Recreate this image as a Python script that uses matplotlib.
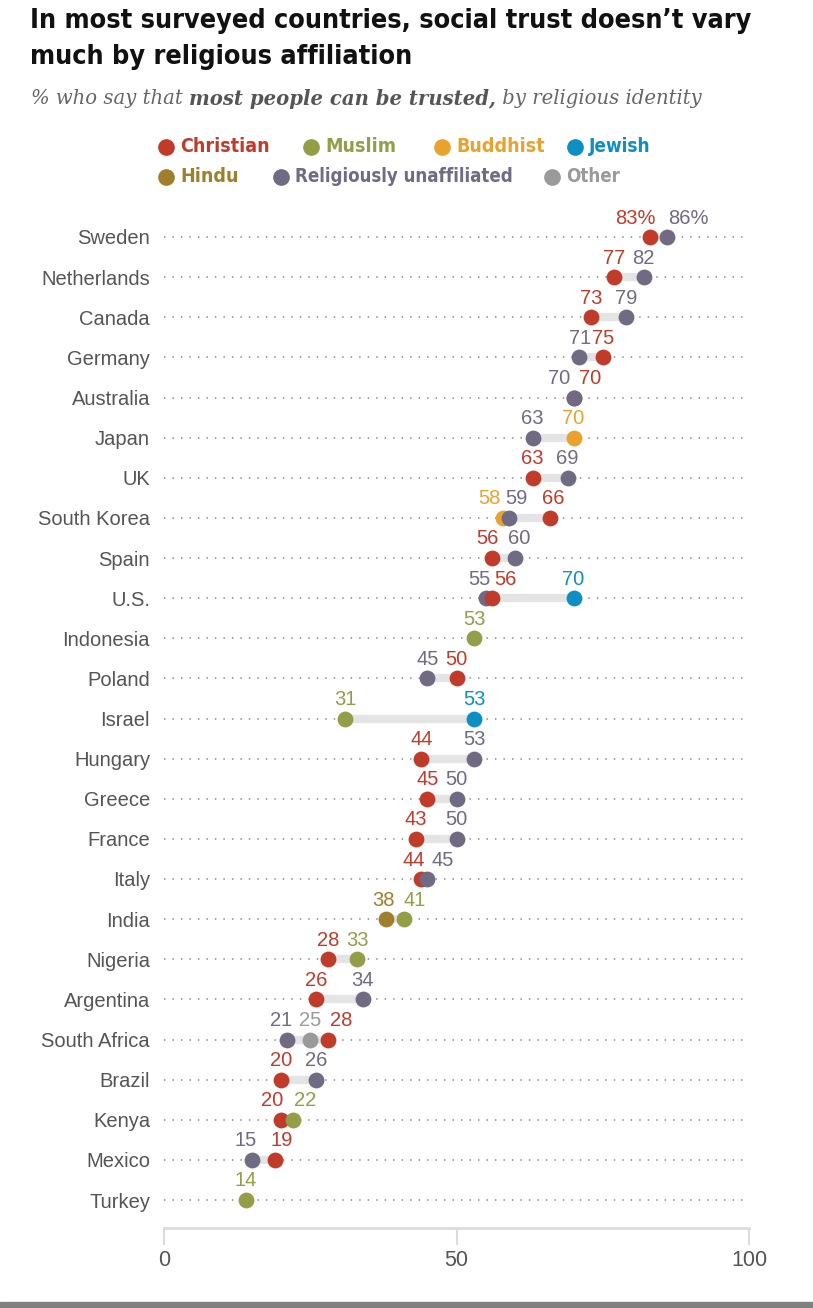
import numpy as np
import matplotlib
matplotlib.use("Agg")
import matplotlib.pyplot as plt
from matplotlib.lines import Line2D

nan = np.nan

countries = ["Sweden", "Netherlands", "Canada", "Germany", "Australia", "Japan", "UK",
             "South Korea", "Spain", "U.S.", "Indonesia", "Poland", "Israel", "Hungary",
             "Greece", "France", "Italy", "India", "Nigeria", "Argentina", "South Africa",
             "Brazil", "Kenya", "Mexico", "Turkey"]

christian = [83, 77, 73, 75, 70, nan, 63, 66, 56, 56, nan, 50, nan, 44, 45, 43, 44, nan, 28, 26, 28, 20, 20, 19, nan]
muslim = [nan, nan, nan, nan, nan, nan, nan, nan, nan, nan, 53, nan, 31, nan, nan, nan, nan, 41, 33, nan, nan, nan, 22, nan, 14]
buddhist = [nan, nan, nan, nan, nan, 70, nan, 58, nan, nan, nan, nan, nan, nan, nan, nan, nan, nan, nan, nan, nan, nan, nan, nan, nan]
jewish = [nan, nan, nan, nan, nan, nan, nan, nan, nan, 70, nan, nan, 53, nan, nan, nan, nan, nan, nan, nan, nan, nan, nan, nan, nan]
hindu = [nan, nan, nan, nan, nan, nan, nan, nan, nan, nan, nan, nan, nan, nan, nan, nan, nan, 38, nan, nan, nan, nan, nan, nan, nan]
unaffiliated = [86, 82, 79, 71, 70, 63, 69, 59, 60, 55, nan, 45, nan, 53, 50, 50, 45, nan, nan, 34, 21, 26, nan, 15, nan]
other = [nan, nan, nan, nan, nan, nan, nan, nan, nan, nan, nan, nan, nan, nan, nan, nan, nan, nan, nan, nan, 25, nan, nan, nan, nan]

# series order matters for ties (later one drawn on top)
series = [
    ("Christian", christian, "#c13b2a"),
    ("Muslim", muslim, "#949d48"),
    ("Buddhist", buddhist, "#eaa22f"),
    ("Jewish", jewish, "#0d8fc4"),
    ("Hindu", hindu, "#9e7f2b"),
    ("Religiously unaffiliated", unaffiliated, "#716a83"),
    ("Other", other, "#9a9a9a"),
]

# nudges (pixels) for value labels that would collide
nudge = {
    ("Sweden", "Christian"): -14, ("Sweden", "Religiously unaffiliated"): 21,
    ("Australia", "Religiously unaffiliated"): -14, ("Australia", "Christian"): 17,
    ("South Korea", "Buddhist"): -14, ("South Korea", "Religiously unaffiliated"): 7,
    ("South Korea", "Christian"): 3,
    ("Spain", "Christian"): -4, ("Spain", "Religiously unaffiliated"): 4,
    ("U.S.", "Religiously unaffiliated"): -6, ("U.S.", "Christian"): 14,
    ("Italy", "Religiously unaffiliated"): 15, ("Italy", "Christian"): -8,
    ("India", "Hindu"): -3, ("India", "Muslim"): 11,
    ("South Africa", "Religiously unaffiliated"): -6, ("South Africa", "Christian"): 13,
    ("Kenya", "Christian"): -9, ("Kenya", "Muslim"): 12,
    ("Mexico", "Religiously unaffiliated"): -6, ("Mexico", "Christian"): 7,
    ("Germany", "Religiously unaffiliated"): 1,
}

W, H = 813, 1308
fig = plt.figure(figsize=(W / 100, H / 100), dpi=100)
fig.patch.set_facecolor("white")

def fx(x):
    return x / W

def fy(y):
    return 1 - y / H

narrow = ["Noto Sans Condensed", "DejaVu Sans Condensed", "Liberation Sans Narrow", "DejaVu Sans"]
sans = ["Liberation Sans", "DejaVu Sans"]
renderer = fig.canvas.get_renderer()

def fit(t, width_px):
    w = t.get_window_extent(renderer).width
    if w > width_px:
        t.set_fontsize(t.get_fontsize() * width_px / w)

ax = fig.add_axes([fx(164), fy(1228), fx(749) - fx(164), (1228 - 200) / H])
n = len(countries)
ypos = np.arange(n)
ax.set_xlim(0, 100)
ax.set_ylim(24 + 28 / 40.125, -37 / 40.125)

for s in ["top", "right", "left"]:
    ax.spines[s].set_visible(False)
ax.spines["bottom"].set_color("#dcdcdc")
ax.spines["bottom"].set_linewidth(2)
ax.set_xticks([0, 50, 100])
ax.set_xticklabels(["0", "50", "100"], fontsize=15.5, color="#555555", family=sans)
ax.tick_params(axis="x", length=12, width=1.5, color="#dcdcdc", pad=4)
ax.set_yticks(ypos)
ax.set_yticklabels(countries, fontsize=14.5, color="#555555", family=sans)
ax.tick_params(axis="y", length=0, pad=10)

# dotted guide lines
for i in ypos:
    ax.plot([0, 100], [i, i], color="#999999", lw=1.3, ls=(0, (0.8, 3.9)), zorder=1)

data = np.array([s[1] for s in series], dtype=float)
for i in ypos:
    vals = data[:, i]
    ok = ~np.isnan(vals)
    if ok.sum() > 1:
        ax.plot([np.nanmin(vals), np.nanmax(vals)], [i, i], color="#e4e4e4", lw=6,
                solid_capstyle="butt", zorder=2)
    order = sorted(np.where(ok)[0], key=lambda k: vals[k])
    for z, k in enumerate(order):
        name, _, col = series[k]
        ax.scatter(vals[k], i, s=130, color=col, zorder=3 + z, clip_on=False, linewidths=0)
        txt = f"{int(vals[k])}%" if i == 0 else f"{int(vals[k])}"
        ax.annotate(txt, (vals[k], i), xytext=(nudge.get((countries[i], name), 0), 19),
                    textcoords="offset pixels", ha="center", va="center",
                    fontsize=14.5, color=col, family=sans, zorder=10)

# title and subtitle
t1 = fig.text(fx(30), fy(21), "In most surveyed countries, social trust doesn\u2019t vary",
              fontsize=19.5, fontweight="bold", fontstretch="condensed", family=narrow,
              va="center", ha="left", color="#111111")
fit(t1, 722)
t2 = fig.text(fx(30), fy(57), "much by religious affiliation", fontsize=t1.get_fontsize(),
              fontweight="bold", fontstretch="condensed", family=narrow,
              va="center", ha="left", color="#111111")

x = fx(31)
for piece, wt in [("% who say that ", "normal"), ("most people can be trusted,", "bold"),
                  (" by religious identity", "normal")]:
    t = fig.text(x, fy(99), piece, fontsize=14.1, style="italic", fontweight=wt,
                 family=["DejaVu Serif"], color="#666666" if wt == "normal" else "#555555",
                 va="center", ha="left")
    x += t.get_window_extent(renderer).width / W

# legend: (name, marker x, text end x, row y)
legend_pos = [
    ("Christian", 166, 270, 147), ("Muslim", 311, 400, 147), ("Buddhist", 442, 546, 147),
    ("Jewish", 575, 651, 147), ("Hindu", 166, 240, 177),
    ("Religiously unaffiliated", 281, 516, 177), ("Other", 552, 620, 177),
]
colors = {s[0]: s[2] for s in series}
for name, lx, rx, ly in legend_pos:
    fig.add_artist(Line2D([fx(lx)], [fy(ly)], marker="o", markersize=11, color=colors[name],
                          linestyle="none", transform=fig.transFigure))
    lt = fig.text(fx(lx + 14), fy(ly), name, fontsize=14, fontweight="bold",
                  fontstretch="condensed", family=narrow,
                  color=colors[name], va="center", ha="left")
    fit(lt, rx - lx - 14)

# bottom grey strip
fig.add_artist(plt.Rectangle((0, 0), 1, 6 / H, color="#808080", transform=fig.transFigure))

fig.savefig("out.png", dpi=100, facecolor="white")
